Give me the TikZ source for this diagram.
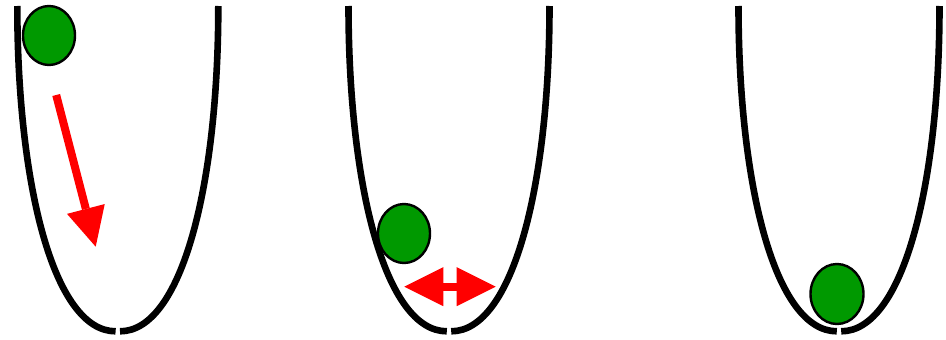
\documentclass[tikz,border=0pt]{standalone}
\usetikzlibrary{arrows.meta,shapes.geometric}
\definecolor{ballgreen}{HTML}{009900}
\definecolor{arrowred}{HTML}{FF0000}
\tikzset{
  bowlline/.style={line width=6.6pt, line cap=butt, black},
  bowl/.pic={
    \draw[bowlline] (-100.5,6) .. controls (-100.5,185) and (-64,331.3) .. (-2.2,331.3);
    \draw[bowlline] (2.2,331.3) .. controls (64,331.3) and (100.5,185) .. (100.5,6);
  },
  ball/.style={ellipse, draw=black, line width=2.4pt, fill=ballgreen, inner sep=0pt,
    minimum width=52pt, minimum height=59pt},
  redarrow/.style={draw=arrowred, line width=8pt, line cap=butt},
  bigtip/.tip={Triangle[length=39pt, width=39pt, line width=0pt]}
}
\begin{document}
\begin{tikzpicture}[x=1pt, y=-1pt]
  \useasboundingbox (0,0) rectangle (946,340);
  % bowls
  \pic at (117.8,0) {bowl};
  \pic at (449,0) {bowl};
  \pic at (839,0) {bowl};
  % balls
  \node[ball] (b1) at (49,35.5) {};
  \node[ball] (b2) at (404,233.5) {};
  \node[ball, minimum width=53pt, minimum height=60pt] (b3) at (837,294) {};
  % arrows
  \coordinate (a1s) at (56.2,95);
  \coordinate (a1e) at (95.7,246.7);
  \draw[redarrow, -{bigtip[fill=arrowred]}] (a1s) -- (a1e);
  \coordinate (a2l) at (404.3,286.7);
  \coordinate (a2r) at (495.7,286.7);
  \draw[redarrow, line width=8.3pt, {bigtip[fill=arrowred]}-{bigtip[fill=arrowred]}] (a2l) -- (a2r);
\end{tikzpicture}
\end{document}
